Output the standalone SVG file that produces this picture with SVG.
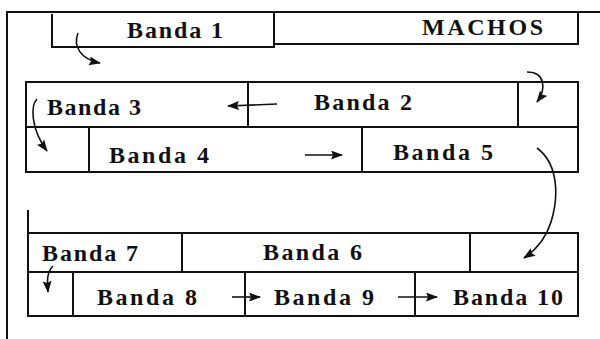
<svg xmlns="http://www.w3.org/2000/svg" width="600" height="339" viewBox="0 0 600 339">
<style>
.b{fill:none;stroke:#111;stroke-width:2}
.t{font-family:"Liberation Serif","Times New Roman",serif;font-weight:bold;font-size:24px;fill:#111}
.c{fill:none;stroke:#111;stroke-width:1.6}
</style>
<defs>
<marker id="ah" markerUnits="userSpaceOnUse" markerWidth="13" markerHeight="10" refX="11" refY="4.5" orient="auto">
<path d="M0,0 L12,4.5 L0,9 L2,4.5 z" fill="#111"/>
</marker>
</defs>
<rect width="600" height="339" fill="#fff"/>
<g id="frame">
<path class="b" d="M7,339 V12 H600"/>
<path class="b" d="M28,210 V233"/>
<rect class="b" x="518" y="82" width="60" height="45"/>
<rect class="b" x="26" y="127" width="63" height="45"/>
<rect class="b" x="470" y="233" width="108" height="39"/>
<rect class="b" x="28" y="272" width="45" height="44"/>
</g>
<g id="banda1"><path class="b" d="M52,14 V47 H274 V12"/><text class="t" x="127" y="38" textLength="96" lengthAdjust="spacing">Banda 1</text></g>
<g id="machos"><path class="b" d="M274,44 H578 V13"/><text class="t" x="422" y="35" textLength="121" lengthAdjust="spacing">MACHOS</text></g>
<g id="banda3"><rect class="b" x="26" y="82" width="222" height="45"/><text class="t" x="47" y="115" textLength="94" lengthAdjust="spacing">Banda 3</text></g>
<g id="banda2"><rect class="b" x="248" y="82" width="270" height="45"/><text class="t" x="314" y="110" textLength="98" lengthAdjust="spacing">Banda 2</text></g>
<g id="banda4"><rect class="b" x="89" y="127" width="273" height="45"/><text class="t" x="109" y="163" textLength="100" lengthAdjust="spacing">Banda 4</text></g>
<g id="banda5"><rect class="b" x="362" y="127" width="216" height="45"/><text class="t" x="393" y="160" textLength="100" lengthAdjust="spacing">Banda 5</text></g>
<g id="banda7"><rect class="b" x="28" y="233" width="154" height="39"/><text class="t" x="42" y="261" textLength="96" lengthAdjust="spacing">Banda 7</text></g>
<g id="banda6"><rect class="b" x="182" y="233" width="288" height="39"/><text class="t" x="263" y="260" textLength="99" lengthAdjust="spacing">Banda 6</text></g>
<g id="banda8"><rect class="b" x="73" y="272" width="172" height="44"/><text class="t" x="97" y="305" textLength="100" lengthAdjust="spacing">Banda 8</text></g>
<g id="banda9"><rect class="b" x="245" y="272" width="170" height="44"/><text class="t" x="274" y="305" textLength="100" lengthAdjust="spacing">Banda 9</text></g>
<g id="banda10"><rect class="b" x="415" y="272" width="163" height="44"/><text class="t" x="453" y="305" textLength="110" lengthAdjust="spacing">Banda 10</text></g>
<g id="connectors">
<path class="c" d="M78,33 C73,46 80,59 100,63" marker-end="url(#ah)"/>
<path class="c" d="M277,104 L228,106" marker-end="url(#ah)"/>
<path class="c" d="M37,99 C31,105 30,128 47,151" marker-end="url(#ah)"/>
<path class="c" d="M527,72 C546,72 546,90 537,102" marker-end="url(#ah)"/>
<path class="c" d="M305,155 L342,155" marker-end="url(#ah)"/>
<path class="c" d="M537,148 C560,165 558,200 551,222 C546,238 536,250 524,258" marker-end="url(#ah)"/>
<path class="c" d="M53,266 C47,272 47,280 48,292" marker-end="url(#ah)"/>
<path class="c" d="M232,297 L260,297" marker-end="url(#ah)"/>
<path class="c" d="M398,297 L437,297" marker-end="url(#ah)"/>
</g>
</svg>
